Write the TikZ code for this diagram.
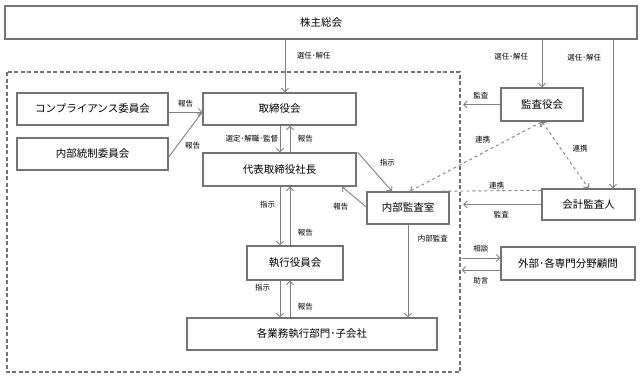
\documentclass[tikz,border=0pt]{standalone}
\usepackage{fontspec}
\setmainfont{Noto Sans CJK JP}
\usetikzlibrary{positioning,arrows.meta,calc}

\begin{document}
\begin{tikzpicture}[x=1pt,y=-1pt,
  box/.style={draw=black!55,line width=1.4pt,fill=white,inner sep=0pt,font=\fontsize{10.5}{12}\selectfont},
  sz/.style 2 args={minimum width=#1,minimum height=#2},
  lab/.style={font=\fontsize{7.5}{9}\selectfont,inner sep=1.5pt},
  arr/.style={draw=black!50,line width=0.9pt,-{Straight Barb[length=3.5pt,width=7pt]}},
  link/.style={draw=black!50,line width=0.9pt,dashed,{Straight Barb[length=3.5pt,width=7pt]}-{Straight Barb[length=3.5pt,width=7pt]}},
  dashbox/.style={draw=black!55,line width=1.2pt,dash pattern=on 4pt off 2.5pt}]
\useasboundingbox (0,0) rectangle (642,378);
% inner frame (board side) and its right edge
\draw[dashbox] (7,72) rectangle (460,372);
\coordinate (inE) at (461.5,0);
\coordinate (dn) at (280,0);
\coordinate (up) at (290,0);
% boxes
\node[box,sz={632pt}{33pt}] (kabu) at (321,22.5) {株主総会};
\node[box,sz={151pt}{32pt}] (compliance) at (92.5,109) {コンプライアンス委員会};
\node[box,sz={151pt}{32pt}] (naibutousei) at (92.5,154) {内部統制委員会};
\node[box,sz={153pt}{32pt}] (torishimari) at (279.5,109) {取締役会};
\node[box,sz={153pt}{33pt}] (daihyo) at (279.5,169.5) {代表取締役社長};
\node[box,sz={82pt}{32pt}] (naibu) at (408,208) {内部監査室};
\node[box,sz={96pt}{34pt}] (shikko) at (295,263) {執行役員会};
\node[box,sz={250pt}{32pt}] (kakugyomu) at (312,334) {各業務執行部門･子会社};
\node[box,sz={82pt}{33pt}] (kansayaku) at (542,104.5) {監査役会};
\node[box,sz={93pt}{31pt}] (kaikei) at (588.5,204.5) {会計監査人};
\node[box,sz={134pt}{33pt}] (gaibu) at (568,263.5) {外部･各専門分野顧問};
% appointment from the shareholders
\draw[arr] ([xshift=5.5pt]torishimari.north |- kabu.south) -- ([xshift=5.5pt]torishimari.north) node[lab,pos=0.3,right=10pt] {選任･解任};
\draw[arr] (kansayaku.north |- kabu.south) -- (kansayaku.north) node[lab,pos=0.35,left=12pt] {選任･解任};
\draw[arr] ([xshift=24.5pt]kaikei.north |- kabu.south) -- ([xshift=24.5pt]kaikei.north) node[lab,pos=0.12,left=10pt] {選任･解任};
% committees report to the board
\coordinate (tin) at ([yshift=-3pt]torishimari.west);
\draw[arr] (compliance.east |- tin) -- (tin) node[lab,midway,above,yshift=3pt] {報告};
\draw[arr] ([yshift=-3pt]naibutousei.east) -- (tin) node[lab,pos=0.25,right=6pt] {報告};
% chain of command, down and up
\draw[arr] (torishimari.south -| dn) -- (daihyo.north -| dn) node[lab,midway,left] {選定･解職･監督};
\draw[arr] (daihyo.north -| up) -- (torishimari.south -| up) node[lab,midway,right=6pt] {報告};
\draw[arr] (daihyo.south -| dn) -- (shikko.north -| dn) node[lab,pos=0.3,left=3pt] {指示};
\draw[arr] (shikko.north -| up) -- (daihyo.south -| up) node[lab,pos=0.22,right=6pt] {報告};
\draw[arr] (shikko.south -| dn) -- (kakugyomu.north -| dn) node[lab,pos=0.2,left=8pt] {指示};
\draw[arr] (kakugyomu.north -| up) -- (shikko.south -| up) node[lab,pos=0.29,right=6pt] {報告};
% internal audit office
\draw[arr] ([xshift=1pt]daihyo.north east) -- ([xshift=-16pt]naibu.north) node[lab,pos=0.4,xshift=16pt,yshift=5pt] {指示};
\draw[arr] ([yshift=1pt]naibu.west) -- ([xshift=62.5pt]daihyo.south) node[lab,pos=0,left=16pt] {報告};
\draw[arr] (naibu.south) -- (naibu.south |- kakugyomu.north) node[lab,pos=0.15,right=8pt] {内部監査};
% audits on the board side
\draw[arr,shorten >=1.5pt] (kansayaku.west) -- (kansayaku.west -| inE) node[lab,midway,above,yshift=4pt] {監査};
\draw[arr,shorten >=1.5pt] (kaikei.west) -- (kaikei.west -| inE) node[lab,midway,below,yshift=-5pt] {監査};
% cooperation
\draw[link] ([xshift=2pt]naibu.north) -- (kansayaku.south) node[lab,pos=0.55,above=8pt] {連携};
\draw[link] (kansayaku.south) -- (kaikei.north) node[lab,pos=0.4,right=10pt] {連携};
\draw[draw=black!50,line width=0.9pt,dashed] ([yshift=-2pt]kaikei.north west) -- ([xshift=-20pt]naibu.north east) node[lab,pos=0.4,above] {連携};
% outside advisers
\draw[arr] ([yshift=5.5pt]gaibu.west -| inE) -- ([yshift=5.5pt]gaibu.west) node[lab,midway,above,yshift=4pt] {相談};
\draw[arr] ([yshift=-6.5pt]gaibu.west) -- ([yshift=-6.5pt]gaibu.west -| inE) node[lab,midway,below,yshift=-5pt] {助言};
\end{tikzpicture}
\end{document}
